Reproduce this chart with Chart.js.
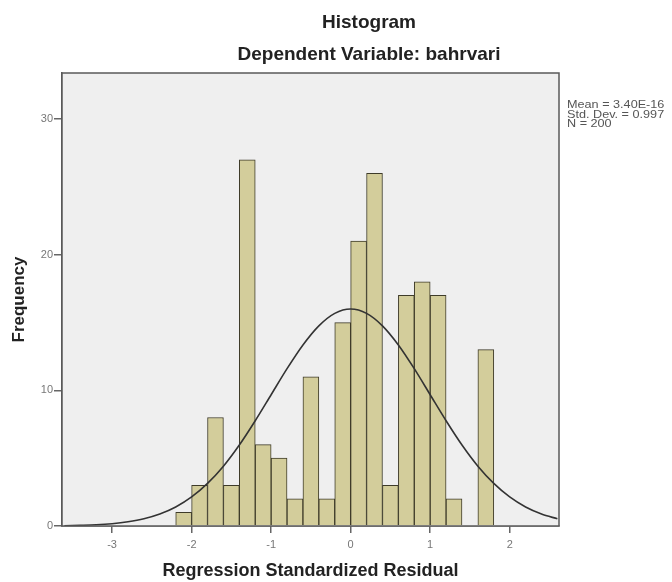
<!DOCTYPE html>
<html>
<head>
<meta charset="utf-8">
<script src="https://cdn.jsdelivr.net/npm/chart.js@4/dist/chart.umd.min.js"></script>
<style>
  html, body { margin: 0; padding: 0; background: #ffffff; }
  #wrap { width: 672px; height: 582px; position: relative; }
</style>
</head>
<body>
<div id="wrap"><canvas id="c" width="672" height="582"></canvas></div>
<script>
// ---- Data ----
const chartTitle = "Histogram";
const chartSubtitle = "Dependent Variable: bahrvari";
const xAxisTitle = "Regression Standardized Residual";
const yAxisTitle = "Frequency";
const statsLines = ["Mean = 3.40E-16", "Std. Dev. = 0.997", "N = 200"];

// histogram bins (centres, width 0.2) and their frequencies
const binCenters = [-2.1, -1.9, -1.7, -1.5, -1.3, -1.1, -0.9, -0.7, -0.5, -0.3,
                    -0.1, 0.1, 0.3, 0.5, 0.7, 0.9, 1.1, 1.3, 1.5, 1.7];
const frequencies = [1, 3, 8, 3, 27, 6, 5, 2, 11, 2,
                     15, 21, 26, 3, 17, 18, 17, 2, 0, 13];

// normal curve
const curveX = [-3.6, -3.4, -3.2, -3.0, -2.8, -2.6, -2.4, -2.2, -2.0, -1.8,
                -1.6, -1.4, -1.2, -1.0, -0.8, -0.6, -0.4, -0.2, 0.0, 0.2,
                0.4, 0.6, 0.8, 1.0, 1.2, 1.4, 1.6, 1.8, 2.0, 2.2, 2.4, 2.6];
const curveY = [0.02, 0.05, 0.09, 0.17, 0.31, 0.53, 0.88, 1.40, 2.14, 3.14,
                4.41, 5.97, 7.76, 9.68, 11.60, 13.35, 14.76, 15.68, 16.00, 15.68,
                14.76, 13.35, 11.60, 9.68, 7.76, 5.97, 4.41, 3.14, 2.14, 1.40, 0.88, 0.53];

const xTicks = [-3, -2, -1, 0, 1, 2];
const yTicks = [0, 10, 20, 30];

// ---- Chart ----
const FONT = "'Liberation Sans', Arial, sans-serif";

const plotFrame = {
  id: 'plotFrame',
  beforeDatasetsDraw(chart) {
    const {ctx, chartArea: a} = chart;
    ctx.save();
    ctx.fillStyle = '#efefef';
    ctx.fillRect(a.left, a.top, a.right - a.left, a.bottom - a.top);
    ctx.restore();
  },
  afterDatasetsDraw(chart) {
    const {ctx, chartArea: a} = chart;
    ctx.save();
    ctx.strokeStyle = '#5a5a5a';
    ctx.lineWidth = 1.5;
    ctx.strokeRect(a.left, a.top, a.right - a.left, a.bottom - a.top);
    ctx.restore();
  },
  afterDraw(chart) {
    const {ctx, chartArea: a} = chart;
    ctx.save();
    // titles, centred over the whole figure
    ctx.fillStyle = '#222222';
    ctx.textAlign = 'center';
    ctx.textBaseline = 'middle';
    ctx.font = "bold 19px " + FONT;
    ctx.fillText(chartTitle, 369, 23);
    ctx.fillText(chartSubtitle, 369, 55);
    // statistics box text
    ctx.fillStyle = '#555555';
    ctx.font = "11px " + FONT;
    ctx.textAlign = 'left';
    statsLines.forEach((s, i) => {
      ctx.save();
      ctx.translate(a.right + 8, 105 + i * 9.7);
      ctx.scale(1.15, 1);
      ctx.fillText(s, 0, 0);
      ctx.restore();
    });
    ctx.restore();
  }
};

new Chart(document.getElementById('c'), {
  data: {
    datasets: [
      {
        type: 'line',
        data: curveX.map((x, i) => ({x: x, y: curveY[i]})),
        borderColor: '#333333',
        borderWidth: 1.6,
        pointRadius: 0,
        tension: 0.3,
        fill: false,
        order: 0
      },
      {
        type: 'bar',
        data: binCenters.map((x, i) => ({x: x, y: frequencies[i]})),
        backgroundColor: '#d3cd9b',
        borderColor: '#3e3b29',
        borderWidth: 1,
        barPercentage: 1,
        categoryPercentage: 1,
        order: 1
      }
    ]
  },
  options: {
    responsive: false,
    animation: false,
    layout: { padding: { left: 0, right: 113, top: 73, bottom: 0 } },
    plugins: {
      legend: { display: false },
      tooltip: { enabled: false },
      title: { display: false },
      subtitle: { display: false }
    },
    scales: {
      x: {
        type: 'linear',
        position: 'bottom',
        min: -3.63,
        max: 2.62,
        offset: false,
        afterFit(s) { s.height = 56; },
        afterBuildTicks(s) { s.ticks = xTicks.map(v => ({value: v})); },
        ticks: {
          color: '#777777',
          font: { family: FONT, size: 11 },
          padding: 5,
          maxRotation: 0,
          callback: v => String(v)
        },
        grid: { offset: false, drawOnChartArea: false, drawTicks: true, tickLength: 7, color: '#666666', lineWidth: 1.5 },
        border: { display: true, color: '#5a5a5a', width: 1.5 },
        title: {
          display: true,
          text: xAxisTitle,
          color: '#222222',
          font: { family: FONT, size: 18, weight: 'bold' },
          padding: { top: 5, bottom: 0 }
        }
      },
      y: {
        type: 'linear',
        position: 'left',
        min: 0,
        max: 33.4,
        afterFit(s) { s.width = 62; },
        afterBuildTicks(s) { s.ticks = yTicks.map(v => ({value: v})); },
        ticks: {
          color: '#777777',
          font: { family: FONT, size: 11 },
          padding: 1,
          callback: v => String(v)
        },
        grid: { offset: false, drawOnChartArea: false, drawTicks: true, tickLength: 8, color: '#666666', lineWidth: 1.5 },
        border: { display: true, color: '#5a5a5a', width: 1.5 },
        title: {
          display: true,
          text: yAxisTitle,
          color: '#222222',
          font: { family: FONT, size: 17, weight: 'bold' },
          padding: { top: 9, bottom: 0 }
        }
      }
    }
  },
  plugins: [plotFrame]
});
</script>
</body>
</html>
